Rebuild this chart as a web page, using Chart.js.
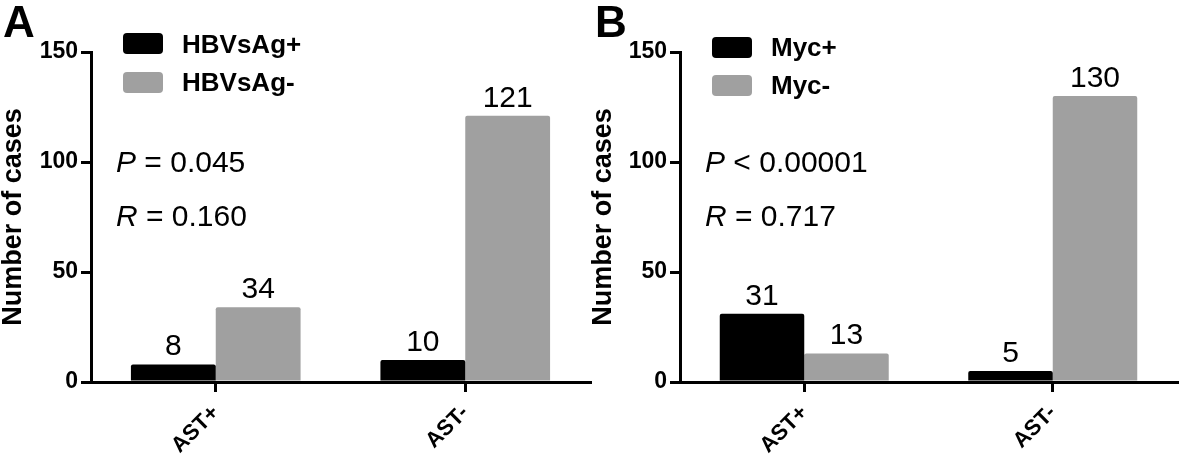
<!DOCTYPE html>
<html><head><meta charset="utf-8">
<script src="https://cdn.jsdelivr.net/npm/chart.js@4/dist/chart.umd.min.js"></script>
<style>
html,body{margin:0;padding:0;background:#fff;width:1181px;height:457px;overflow:hidden}
canvas{position:absolute;top:0}
</style></head><body>
<canvas id="cA" width="600" height="457" style="left:0px"></canvas>
<canvas id="cB" width="591" height="457" style="left:590px"></canvas>
<script>
// ---- data ----
const categories = ['AST+', 'AST-'];
const yTickValues = [0, 50, 100, 150];
const hbvPos = [8, 10];
const hbvNeg = [34, 121];
const mycPos = [31, 5];
const mycNeg = [13, 130];
const seriesNamesA = ['HBVsAg+', 'HBVsAg-'];
const seriesNamesB = ['Myc+', 'Myc-'];
const statsA = [['P', ' = 0.045'], ['R', ' = 0.160']];
const statsB = [['P', ' < 0.00001'], ['R', ' = 0.717']];
const yTitle = 'Number of cases';

const FONT = '"Liberation Sans", Arial, Helvetica, sans-serif';
const BLACK = '#000000';
const GREY = '#a0a0a0';

const overlay = {
  id: 'overlay',
  afterDatasetsDraw(chart, args, o) {
    const ctx = chart.ctx;
    const area = chart.chartArea;
    ctx.save();
    // data labels
    ctx.fillStyle = '#000';
    ctx.font = '30px ' + FONT;
    ctx.textAlign = 'center';
    ctx.textBaseline = 'alphabetic';
    chart.data.datasets.forEach((ds, di) => {
      const meta = chart.getDatasetMeta(di);
      meta.data.forEach((el, i) => {
        ctx.fillText(String(ds.data[i]), el.x, el.y - 9);
      });
    });
    // legend
    chart.data.datasets.forEach((ds, di) => {
      const bx = area.left + o.legendDx;
      const by = o.legendBoxY[di];
      ctx.fillStyle = ds.backgroundColor;
      ctx.beginPath();
      ctx.roundRect(bx, by, 40, 21, 4);
      ctx.fill();
      ctx.fillStyle = '#000';
      ctx.font = 'bold 26px ' + FONT;
      ctx.textAlign = 'left';
      ctx.textBaseline = 'alphabetic';
      ctx.fillText(ds.label, bx + 59, o.legendTextY[di]);
    });
    // stats
    o.stats.forEach((s, i) => {
      const x = area.left + o.statsDx;
      const y = o.statsY[i];
      ctx.font = 'italic 30px ' + FONT;
      ctx.textAlign = 'left';
      ctx.fillText(s[0], x, y);
      const w = ctx.measureText(s[0]).width;
      ctx.font = '30px ' + FONT;
      ctx.fillText(s[1], x + w, y);
    });
    // panel letter
    ctx.font = 'bold 44px ' + FONT;
    ctx.textAlign = 'left';
    ctx.fillText(o.letter, o.letterX, 37);
    ctx.restore();
  }
};

function makeChart(id, pos, neg, names, stats, letter, yWidth, padRight, legendBoxY, legendTextY, letterX) {
  return new Chart(document.getElementById(id), {
    type: 'bar',
    data: {
      labels: categories,
      datasets: [
        { label: names[0], data: pos, backgroundColor: BLACK, borderRadius: 2, borderSkipped: 'bottom' },
        { label: names[1], data: neg, backgroundColor: GREY, borderRadius: 2, borderSkipped: 'bottom' }
      ]
    },
    options: {
      responsive: false,
      animation: false,
      devicePixelRatio: 1,
      layout: { padding: { top: 52, right: padRight, left: 0, bottom: 0 } },
      datasets: { bar: { barPercentage: 1, categoryPercentage: 0.68 } },
      plugins: {
        legend: { display: false },
        tooltip: { enabled: false },
        overlay: { stats: stats, letter: letter, legendDx: 32, legendBoxY: legendBoxY, legendTextY: legendTextY, statsDx: 25, statsY: [172, 226], letterX: letterX }
      },
      scales: {
        x: {
          offset: true,
          grid: { display: true, offset: false, drawOnChartArea: false, drawTicks: true, tickLength: 10, lineWidth: 3, color: '#000' },
          border: { display: true, width: 3, color: '#000' },
          ticks: { color: '#000', font: { family: FONT, size: 22, weight: 'bold' }, minRotation: 45, maxRotation: 45, padding: 8 },
          afterFit(scale) { scale.height = 75; }
        },
        y: {
          min: 0, max: 150,
          afterBuildTicks(scale) { scale.ticks = yTickValues.map(v => ({ value: v })); },
          grid: { display: true, drawOnChartArea: false, drawTicks: true, tickLength: 10, lineWidth: 3, color: '#000' },
          border: { display: true, width: 3, color: '#000' },
          ticks: { color: '#000', font: { family: FONT, size: 23, weight: 'bold' }, padding: 3 },
          title: { display: true, text: yTitle, color: '#000', font: { family: FONT, size: 27, weight: 'bold', lineHeight: 1 }, padding: 0 },
          afterFit(scale) { scale.width = yWidth; }
        }
      }
    },
    plugins: [overlay]
  });
}

makeChart('cA', hbvPos, hbvNeg, seriesNamesA, statsA, 'A', 91, 10, [33, 72], [53, 91], 3);
makeChart('cB', mycPos, mycNeg, seriesNamesB, statsB, 'B', 90, 4, [37, 75], [56, 94], 5);
</script>
</body></html>
